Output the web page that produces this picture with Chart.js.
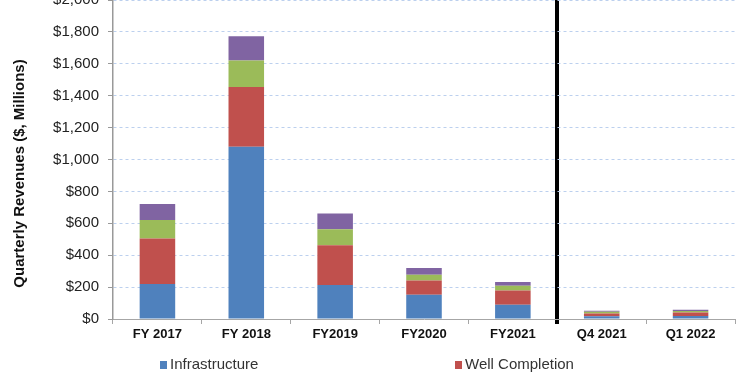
<!DOCTYPE html>
<html>
<head>
<meta charset="utf-8">
<script src="https://cdn.jsdelivr.net/npm/chart.js@4"></script>
<style>
  html, body { margin: 0; padding: 0; background: #fff; }
  #wrap { width: 750px; height: 375px; }
</style>
</head>
<body>
<div id="wrap"><canvas id="graficoReceitas"></canvas></div>
<script>
const categorias = ['FY 2017', 'FY 2018', 'FY2019', 'FY2020', 'FY2021', 'Q4 2021', 'Q1 2022'];
const infrastructure = [220, 1080, 213, 152, 90, 18, 19];
const wellCompletion = [284, 375, 249, 90, 88, 17, 21];
const sandProppant = [117, 165, 100, 36, 31, 10, 10];
const outros = [100, 153, 100, 42, 23, 7, 8];
const yTicks = [0, 200, 400, 600, 800, 1000, 1200, 1400, 1600, 1800, 2000];

// legenda e titulo do eixo desenhados a mao (a legenda original esta cortada)
const extras = {
  id: 'extras',
  afterDraw(chart) {
    const c = chart.ctx;
    const area = chart.chartArea;
    c.save();
    c.font = 'bold 15px "Liberation Sans", Arial, sans-serif';
    c.fillStyle = '#111';
    c.textAlign = 'center';
    c.textBaseline = 'middle';
    c.translate(20, (area.top + area.bottom) / 2 + 14);
    c.rotate(-Math.PI / 2);
    c.fillText('Quarterly Revenues ($, Millions)', 0, 0);
    c.restore();

    const pos = [160, 455];
    c.save();
    c.font = '15px "Liberation Sans", Arial, sans-serif';
    c.textBaseline = 'middle';
    c.textAlign = 'left';
    pos.forEach((x, i) => {
      const ds = chart.data.datasets[i];
      c.fillStyle = ds.backgroundColor;
      c.fillRect(x, 361, 7, 8);
      c.fillStyle = '#333';
      c.fillText(ds.label, x + 10, 365);
    });
    c.restore();
  }
};

const ctx = document.getElementById('graficoReceitas').getContext('2d');
new Chart(ctx, {
  type: 'bar',
  data: {
    labels: categorias,
    datasets: [
      { label: 'Infrastructure', data: infrastructure, backgroundColor: '#4f81bd' },
      { label: 'Well Completion', data: wellCompletion, backgroundColor: '#c0504d' },
      { label: 'Natural Sand Proppant', data: sandProppant, backgroundColor: '#9bbb59' },
      { label: 'Other', data: outros, backgroundColor: '#8064a2' }
    ]
  },
  options: {
    responsive: true,
    maintainAspectRatio: false,
    animation: false,
    layout: { autoPadding: false, padding: { left: 0, right: 15, top: 0, bottom: 0 } },
    datasets: { bar: { categoryPercentage: 1, barPercentage: 0.4 } },
    plugins: {
      legend: { display: false },
      tooltip: { enabled: false }
    },
    scales: {
      x: {
        stacked: true,
        afterFit(scale) {
          scale.height = 56;
          scale.paddingLeft = 0;
          scale.paddingRight = 0;
        },
        border: { color: '#a6a6a6', width: 1 },
        grid: {
          offset: true,
          drawOnChartArea: true,
          color: c => c.index === 5 ? '#000' : 'rgba(0,0,0,0)',
          lineWidth: c => c.index === 5 ? 4 : 1,
          tickColor: c => c.index === 5 ? '#000' : '#a6a6a6',
          tickLength: 5
        },
        ticks: {
          color: '#111',
          padding: 3,
          font: { family: '"Liberation Sans", Arial, sans-serif', size: 13, weight: 'bold' }
        }
      },
      y: {
        stacked: true,
        min: 0,
        max: 2000,
        afterFit(scale) {
          scale.width = 113;
          scale.paddingTop = 0;
          scale.paddingBottom = 0;
        },
        afterBuildTicks(scale) { scale.ticks = yTicks.map(v => ({ value: v })); },
        border: { color: '#999', width: 1.5, dash: [3, 3] },
        grid: {
          color: '#bcd0ee',
          tickColor: '#999',
          tickBorderDash: [],
          tickLength: 5
        },
        ticks: {
          color: '#222',
          padding: 9,
          font: { family: '"Liberation Sans", Arial, sans-serif', size: 15 },
          callback: v => '$' + v.toLocaleString('en-US')
        }
      }
    }
  },
  plugins: [extras]
});
</script>
</body>
</html>
